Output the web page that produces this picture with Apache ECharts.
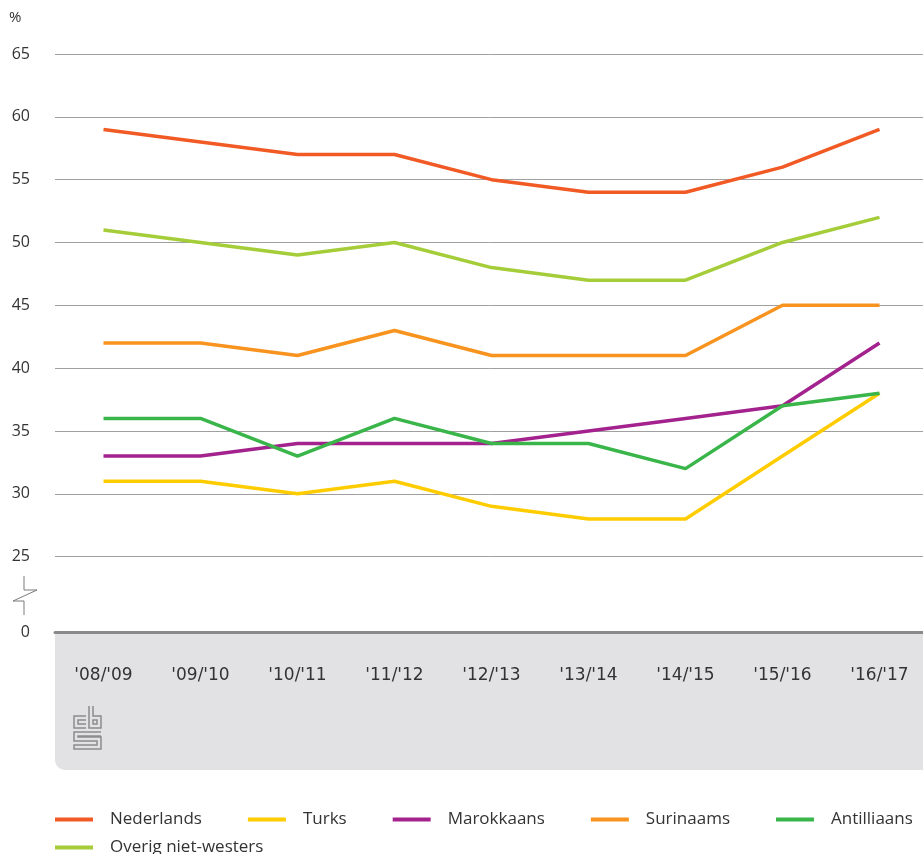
<!DOCTYPE html>
<html>
<head>
<meta charset="utf-8">
<script src="https://cdn.jsdelivr.net/npm/echarts@6/dist/echarts.min.js"></script>
<style>
  html, body { margin: 0; padding: 0; background: #fff; }
  #chart { width: 923px; height: 854px; }
</style>
</head>
<body>
<div id="chart"></div>
<script>
// schooljaren
const categories = ["'08/'09", "'09/'10", "'10/'11", "'11/'12", "'12/'13", "'13/'14", "'14/'15", "'15/'16", "'16/'17"];

// waarden per herkomstgroep (%)
const nederlands = [59, 58, 57, 57, 55, 54, 54, 56, 59];
const turks = [31, 31, 30, 31, 29, 28, 28, 33, 38];
const marokkaans = [33, 33, 34, 34, 34, 35, 36, 37, 42];
const surinaams = [42, 42, 41, 43, 41, 41, 41, 45, 45];
const antilliaans = [36, 36, 33, 36, 34, 34, 32, 37, 38];
const overig = [51, 50, 49, 50, 48, 47, 47, 50, 52];

// y-as: onderbroken as, 0 onderaan
const yMin = 19;
const yMax = 65;
const yTicks = [25, 30, 35, 40, 45, 50, 55, 60, 65];

const fontMain = 'Open Sans';
const textColor = '#333';

const chart = echarts.init(document.getElementById('chart'));

const mkSeries = (name, data, color) => ({
  name: name,
  type: 'line',
  data: data,
  symbol: 'none',
  lineStyle: { color: color, width: 3.5 },
  itemStyle: { color: color },
  z: 3
});

const legendBase = {
  orient: 'horizontal',
  padding: 0,
  itemWidth: 38,
  itemHeight: 4,
  itemGap: 46,
  icon: 'rect',
  textStyle: {
    fontFamily: fontMain,
    fontSize: 17,
    color: textColor,
    padding: [0, 0, 0, 12]
  }
};

const option = {
  backgroundColor: '#fff',
  animation: false,
  title: {
    text: '%',
    left: 9,
    top: 10,
    padding: 0,
    textStyle: { fontFamily: fontMain, fontSize: 15, fontWeight: 'normal', color: textColor }
  },
  grid: {
    left: 55,
    width: 873,
    top: 54,
    bottom: 222,
    outerBoundsMode: 'none'
  },
  xAxis: {
    type: 'category',
    data: categories,
    boundaryGap: true,
    axisLine: { lineStyle: { color: '#8a8a8a', width: 3 } },
    axisTick: { alignWithLabel: true, length: 13, lineStyle: { color: '#8a8a8a', width: 1 } },
    axisLabel: {
      margin: 35,
      fontFamily: 'DejaVu Sans',
      fontSize: 17,
      color: textColor
    },
    splitLine: { show: false },
    z: 5
  },
  yAxis: {
    type: 'value',
    min: yMin,
    max: yMax,
    axisLine: { show: false },
    axisTick: { show: false, customValues: yTicks },
    axisLabel: {
      customValues: [yMin].concat(yTicks),
      formatter: v => (v === yMin ? '0' : String(v)),
      align: 'right',
      margin: 25,
      fontFamily: fontMain,
      fontSize: 16,
      color: textColor
    },
    splitLine: { show: true, lineStyle: { color: '#a0a0a0', width: 1 } }
  },
  legend: [
    Object.assign({}, legendBase, {
      left: 55,
      top: 811,
      data: ['Nederlands', 'Turks', 'Marokkaans', 'Surinaams', 'Antilliaans']
    }),
    Object.assign({}, legendBase, {
      left: 55,
      top: 839,
      data: ['Overig niet-westers']
    })
  ],
  graphic: [
    {
      type: 'rect',
      z: -10,
      shape: { x: 55, y: 632, width: 880, height: 138, r: [0, 0, 0, 10] },
      style: { fill: '#e2e2e4' }
    },
    {
      // asbreuk
      type: 'polyline',
      z: 10,
      shape: { points: [[24, 576], [24, 590], [37, 590], [13, 601], [24, 601], [24, 615]] },
      style: { stroke: '#7a7a7a', lineWidth: 1, fill: null }
    },
    {
      // cbs logo (vereenvoudigd)
      type: 'group',
      z: 10,
      children: [
        { type: 'polyline', shape: { points: [[86, 716], [74, 716], [74, 728], [86, 728]] }, style: { stroke: '#8c8c8c', lineWidth: 1.5, fill: null } },
        { type: 'polyline', shape: { points: [[86, 720], [78, 720], [78, 724], [86, 724]] }, style: { stroke: '#8c8c8c', lineWidth: 1.5, fill: null } },
        { type: 'polyline', shape: { points: [[89, 706], [89, 728], [101, 728], [101, 716], [93, 716], [93, 706]] }, style: { stroke: '#8c8c8c', lineWidth: 1.5, fill: null } },
        { type: 'rect', shape: { x: 93, y: 720, width: 4, height: 4 }, style: { stroke: '#8c8c8c', lineWidth: 1.5, fill: null } },
        { type: 'polyline', shape: { points: [[101, 732], [74, 732], [74, 741], [97, 741], [97, 745], [74, 745], [74, 749], [101, 749], [101, 737], [78, 737], [78, 736], [101, 736]] }, style: { stroke: '#8c8c8c', lineWidth: 1.5, fill: null } }
      ]
    }
  ],
  series: [
    mkSeries('Nederlands', nederlands, '#f15a24'),
    mkSeries('Turks', turks, '#ffcc00'),
    mkSeries('Marokkaans', marokkaans, '#a3228e'),
    mkSeries('Surinaams', surinaams, '#f7931e'),
    mkSeries('Antilliaans', antilliaans, '#39b54a'),
    mkSeries('Overig niet-westers', overig, '#a4cd39')
  ]
};

chart.setOption(option);
window.addEventListener('resize', () => chart.resize());
</script>
</body>
</html>
